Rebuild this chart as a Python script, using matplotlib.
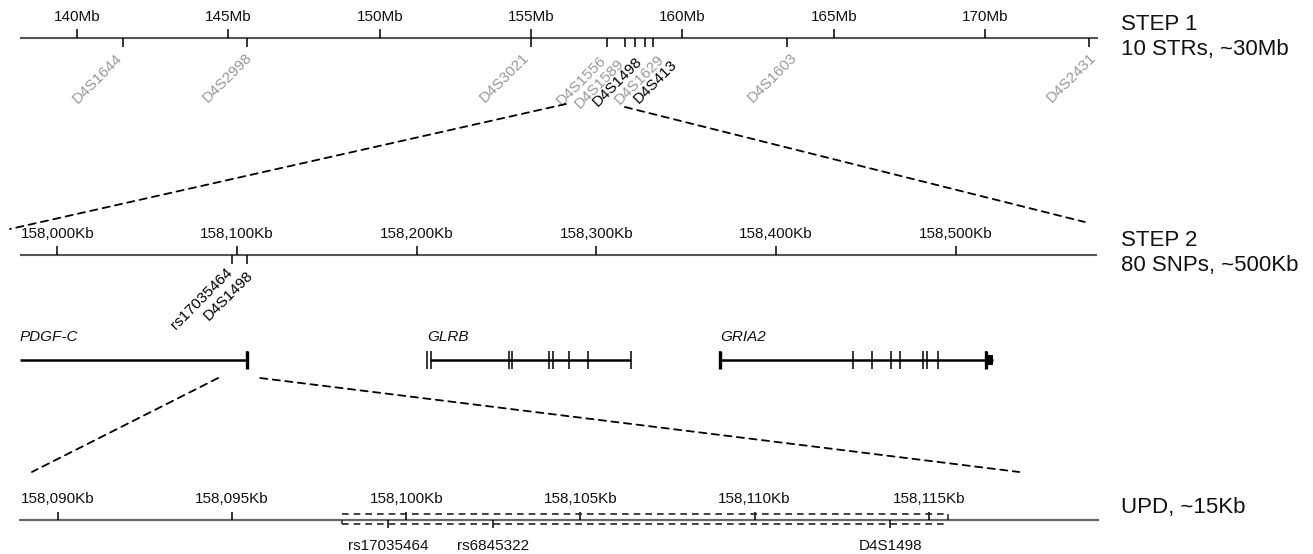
import matplotlib.pyplot as plt
from matplotlib.patches import ConnectionPatch

plt.rcParams['font.family'] = ['Liberation Sans', 'DejaVu Sans']

W, H = 1313, 554

# ── STEP 1 : 10 STRs (Mb) ─────────────────────────
step1_region = (138.12, 173.73)
step1_ticks = [140, 145, 150, 155, 160, 165, 170]
str_names = ["D4S1644", "D4S2998", "D4S3021", "D4S1556", "D4S1589",
             "D4S1498", "D4S1629", "D4S413", "D4S1603", "D4S2431"]
str_pos = [141.52, 145.62, 155.0, 157.51, 158.10,
           158.42, 158.75, 159.04, 163.45, 173.43]
str_key = [False, False, False, False, False, True, False, True, False, False]
step1_zoom = (156.15, 158.10)

# ── STEP 2 : 80 SNPs (Kb) ─────────────────────────
step2_region = (157979.2, 158578.5)
step2_view = (157973.7, 158571.8)
step2_ticks = [158000, 158100, 158200, 158300, 158400, 158500]
snp_names = ["rs17035464", "D4S1498"]
snp_pos = [158097.3, 158105.6]
step2_zoom = (158089.5, 158112.9)

gene_names = ["PDGF-C", "GLRB", "GRIA2"]
gene_span = [(157979.2, 158105.6), (158207.6, 158319.4), (158368.9, 158520.8)]
gene_exons = [
    [158105.6],
    [158205.8, 158208.1, 158251.4, 158253.0, 158273.9, 158276.1,
     158284.8, 158295.4, 158319.4],
    [158368.9, 158442.9, 158453.4, 158464.0, 158469.0, 158481.8,
     158483.7, 158490.2, 158516.9],
]
gene_thick = [[158105.6], [], [158368.9, 158516.9]]
gria2_utr = (158516.9, 158520.8)

# ── UPD (Kb) ──────────────────────────────────────
upd_region = (158088.88, 158119.89)
upd_ticks = [158090, 158095, 158100, 158105, 158110, 158115]
upd_names = ["rs17035464", "rs6845322", "D4S1498"]
upd_pos = [158099.47, 158102.48, 158113.9]
upd_box = (158098.15, 158115.55)
upd_zoom = (158089.25, 158117.6)

# layout: px per unit and anchor position of the first tick
SCALES = {"s1": (30.27, 140, 77.0), "s2": (1.797, 158000, 57.3), "s3": (34.83, 158090, 58.0)}
Y1, Y2, YG, Y3 = 38, 255, 360, 520
FS = 11
GRAY = "#999999"
LINE = "#555555"

# per-label pixel nudges of the rotated names (dx, dy)
str_nudge = [(-8, 4), (-2, 3), (-9, 3), (-8, 6), (-8, 9), (0, 7), (12, 5), (17, 10), (3, 3), (0, 3)]
snp_nudge = [(-7, 1), (-1, 4)]

fig = plt.figure(figsize=(W / 100, H / 100), dpi=100)


def track_axes(key):
    ppu, x0, px0 = SCALES[key]
    ax = fig.add_axes([0, 0, 1, 1])
    ax.set_xlim(x0 - px0 / ppu, x0 + (W - px0) / ppu)
    ax.set_ylim(H, 0)
    ax.axis("off")
    ax.patch.set_alpha(0)
    return ax


def scale_track(ax, region, ticks, y, fmt, tick_len=9, color=LINE, lw=1.5):
    ax.hlines(y, *region, color=color, lw=lw)
    ax.vlines(ticks, y - tick_len, y, color="black", lw=1.1)
    for t in ticks:
        ax.text(t, y - 21, fmt(t), ha="center", va="center", fontsize=FS, color="#111111")


ax1 = track_axes("s1")
ax2 = track_axes("s2")
ax3 = track_axes("s3")

# STEP 1
scale_track(ax1, step1_region, step1_ticks, Y1, lambda t: f"{t}Mb")
ax1.vlines(str_pos, Y1, Y1 + 9, color="black", lw=1.1)
for name, p, key, (dx, dy) in zip(str_names, str_pos, str_key, str_nudge):
    ax1.annotate(name, xy=(p, Y1 + 9), xytext=(dx, -dy), textcoords="offset pixels",
                 rotation=45, rotation_mode="anchor", ha="right", va="top",
                 fontsize=FS, color="black" if key else GRAY)

# STEP 2
scale_track(ax2, step2_region, step2_ticks, Y2, lambda t: f"{t:,}Kb")
ax2.vlines(snp_pos, Y2, Y2 + 9, color="black", lw=1.1)
for name, p, (dx, dy) in zip(snp_names, snp_pos, snp_nudge):
    ax2.annotate(name, xy=(p, Y2 + 9), xytext=(dx, -dy), textcoords="offset pixels",
                 rotation=45, rotation_mode="anchor", ha="right", va="top",
                 fontsize=FS, color="black")

for name, span, exons, thick in zip(gene_names, gene_span, gene_exons, gene_thick):
    ax2.hlines(YG, *span, color="black", lw=1.8)
    ax2.vlines(exons, YG - 9, YG + 9, color="black", lw=1.1)
    if thick:
        ax2.vlines(thick, YG - 9, YG + 9, color="black", lw=2.4)
    ax2.text(min(exons + [span[0]]), YG - 23, name, ha="left", va="center",
             fontsize=FS, style="italic", color="#111111")
ax2.fill_between(gria2_utr, YG - 5, YG + 5, color="black", lw=0)

# UPD
scale_track(ax3, upd_region, upd_ticks, Y3, lambda t: f"{t:,}Kb", tick_len=8, color="#666666", lw=1.6)
ax3.vlines(upd_pos, Y3, Y3 + 8, color="black", lw=1.1)
for name, p in zip(upd_names, upd_pos):
    ax3.text(p, Y3 + 26, name, ha="center", va="center", fontsize=FS, color="#111111")
box_kw = dict(color="#222222", lw=1.2, linestyles=(0, (4, 3)))
ax3.hlines([Y3 - 6, Y3 + 4], *upd_box, **box_kw)
ax3.vlines(upd_box[0], Y3, Y3 + 4, color="#222222", lw=1.1)
ax3.vlines(upd_box[1], Y3 - 6, Y3, color="#222222", lw=1.1)

# zoom connectors
dash = dict(linestyle=(0, (4, 3)), lw=1.3, color="black")
for a, b, ya, yb in zip(step1_zoom, step2_view, (Y1 + 66, Y1 + 69), (Y2 - 26, Y2 - 33)):
    fig.add_artist(ConnectionPatch((a, ya), (b, yb), ax1.transData, ax2.transData, **dash))
for a, b in zip(step2_zoom, upd_zoom):
    fig.add_artist(ConnectionPatch((a, YG + 18), (b, Y3 - 48), ax2.transData, ax3.transData, **dash))

# step labels
for y, txt in [(24, "STEP 1"), (49, "10 STRs, ~30Mb"), (241, "STEP 2"),
               (265, "80 SNPs, ~500Kb"), (507, "UPD, ~15Kb")]:
    fig.text(1121 / W, 1 - y / H, txt, ha="left", va="center", fontsize=16, color="#111111")

fig.savefig("out.png", dpi=100)
